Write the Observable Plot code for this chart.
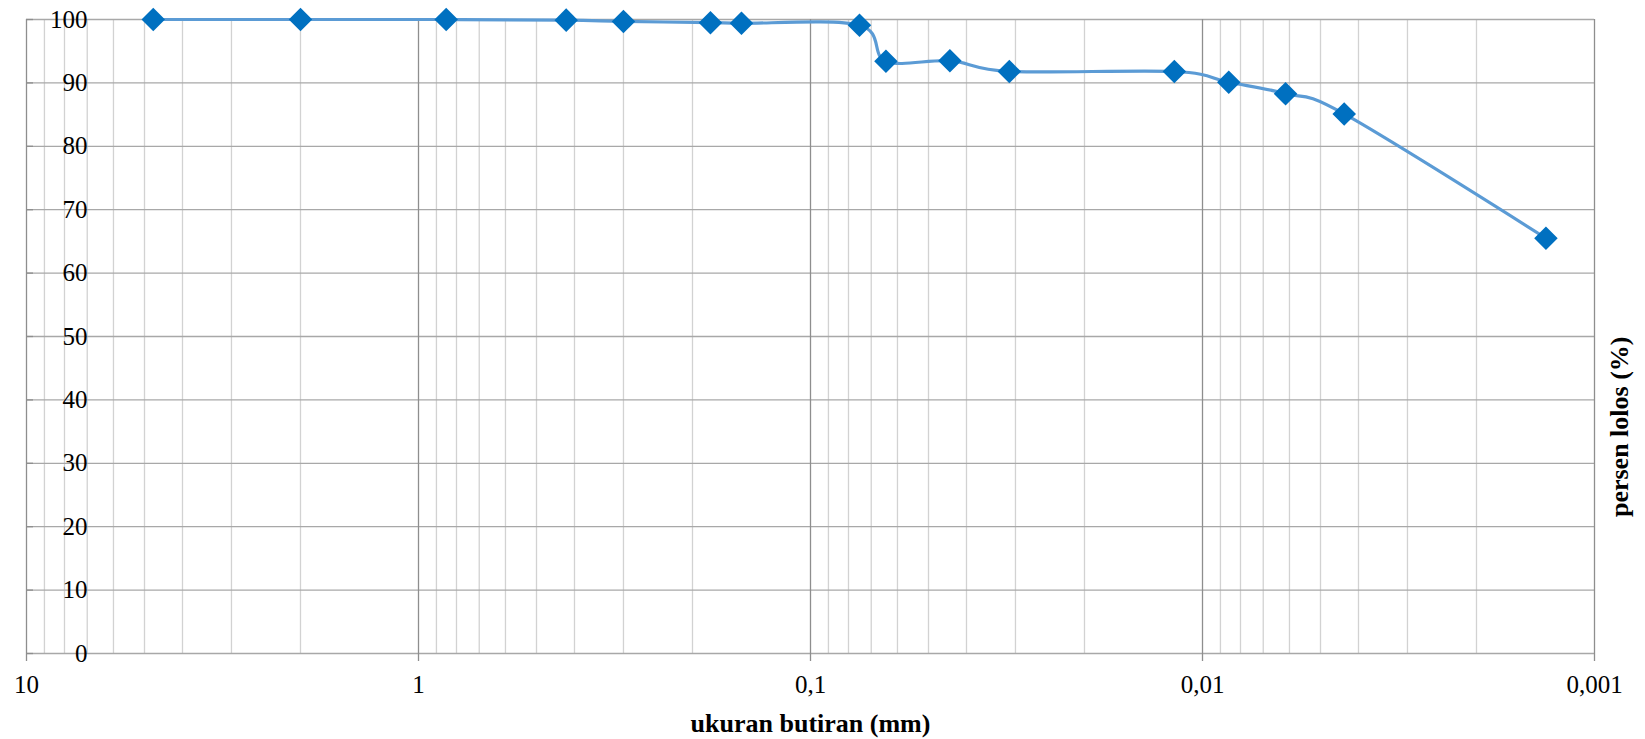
<!DOCTYPE html>
<html>
<head>
<meta charset="utf-8">
<script src="https://cdn.jsdelivr.net/npm/d3@7"></script>
<script src="https://cdn.jsdelivr.net/npm/@observablehq/plot@0.6"></script>
<style>
  html, body { margin: 0; padding: 0; background: #ffffff; }
  #chart svg { display: block; }
</style>
</head>
<body>
<div id="chart"></div>
<script>
// Grain size (mm) and percent passing
const grainSize = [4.75, 2.0, 0.85, 0.42, 0.30, 0.18, 0.15, 0.075, 0.0642, 0.0441, 0.0311, 0.0118, 0.00857, 0.00614, 0.00435, 0.00133];
const percentPassing = [100, 100, 100, 99.9, 99.7, 99.5, 99.4, 99.1, 93.4, 93.5, 91.8, 91.8, 90.1, 88.3, 85.1, 65.5];

// Axis ticks and labels
const xMajorTicks = [10, 1, 0.1, 0.01, 0.001];
const xMajorLabels = ["10", "1", "0,1", "0,01", "0,001"];
const xMinorTicks = [9, 8, 7, 6, 5, 4, 3, 2,
                     0.9, 0.8, 0.7, 0.6, 0.5, 0.4, 0.3, 0.2,
                     0.09, 0.08, 0.07, 0.06, 0.05, 0.04, 0.03, 0.02,
                     0.009, 0.008, 0.007, 0.006, 0.005, 0.004, 0.003, 0.002];
const yTicks = [0, 10, 20, 30, 40, 50, 60, 70, 80, 90, 100];

const xTitle = "ukuran butiran (mm)";
const yTitle = "persen lolos (%)";

const data = grainSize.map((d, i) => ({size: d, pass: percentPassing[i]}));
const serif = "'Liberation Serif', 'Times New Roman', serif";

const chart = Plot.plot({
  width: 1645,
  height: 739,
  marginLeft: 26,
  marginRight: 51,
  marginTop: 19,
  marginBottom: 86,
  style: {fontFamily: serif, fontSize: "25px", color: "#000", background: "#fff"},
  x: {type: "log", domain: [10, 0.001]},
  y: {domain: [0, 100]},
  marks: [
    Plot.ruleX(xMinorTicks, {stroke: "#d2d2d2", strokeWidth: 1.3}),
    Plot.ruleY(yTicks, {stroke: "#a8a8a8", strokeWidth: 1.3}),
    Plot.ruleX(xMajorTicks, {stroke: "#8e8e8e", strokeWidth: 1.3}),
    Plot.axisX({
      ticks: xMajorTicks,
      tickFormat: d => xMajorLabels[xMajorTicks.indexOf(d)],
      tickSize: 8,
      tickPadding: 14,
      stroke: "#8e8e8e",
      strokeWidth: 1.3,
      fontSize: 25,
      fill: "#000",
      label: null
    }),
    Plot.axisY({
      ticks: yTicks,
      tickSize: 7,
      dx: 7,
      tickFormat: () => "",
      stroke: "#8e8e8e",
      strokeWidth: 1.3,
      label: null
    }),
    Plot.text(yTicks, {
      y: d => d,
      text: d => String(d),
      frameAnchor: "left",
      dx: 61,
      textAnchor: "end",
      lineAnchor: "middle",
      fontSize: 25,
      fill: "#000"
    }),
    Plot.line(data, {
      x: "size",
      y: "pass",
      stroke: "#5b9bd5",
      strokeWidth: 3.2,
      curve: "cardinal",
      tension: 0
    }),
    Plot.dot(data, {
      x: "size",
      y: "pass",
      symbol: "diamond2",
      r: 10.6,
      fill: "#0070c0",
      stroke: "none"
    }),
    Plot.text([xTitle], {
      frameAnchor: "bottom",
      dy: 70,
      lineAnchor: "middle",
      text: d => d,
      fontSize: 26,
      fontWeight: "bold",
      fill: "#000"
    }),
    Plot.text([yTitle], {
      frameAnchor: "right",
      dx: 25,
      rotate: -90,
      lineAnchor: "middle",
      text: d => d,
      fontSize: 26,
      fontWeight: "bold",
      fill: "#000"
    })
  ]
});

document.getElementById("chart").appendChild(chart);
</script>
</body>
</html>
